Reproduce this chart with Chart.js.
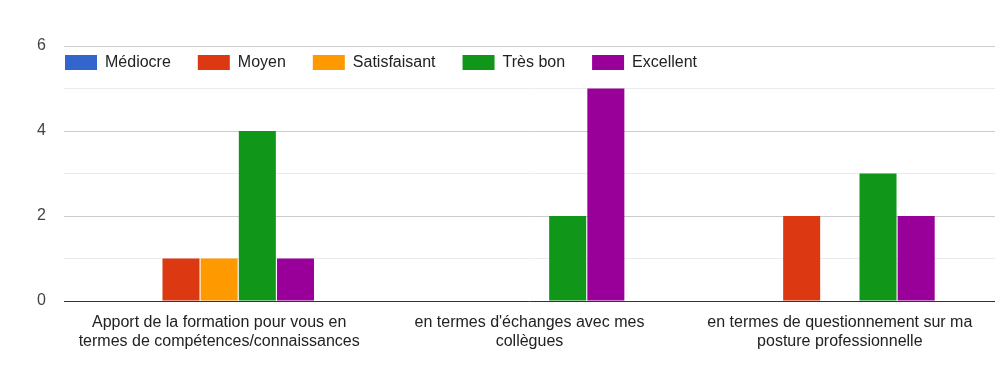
<!DOCTYPE html>
<html>
<head>
<meta charset="utf-8">
<script src="https://cdn.jsdelivr.net/npm/chart.js@4.4.1/dist/chart.umd.min.js"></script>
<style>
  html, body { margin: 0; padding: 0; background: #fff; }
  #wrap { width: 1003px; height: 368px; position: relative; }
</style>
</head>
<body>
<div id="wrap"><canvas id="ratingChart"></canvas></div>
<script>
const categories = [
  ["Apport de la formation pour vous en", "termes de compétences/connaissances"],
  ["en termes d'échanges avec mes", "collègues"],
  ["en termes de questionnement sur ma", "posture professionnelle"]
];
const seriesNames = ["Médiocre", "Moyen", "Satisfaisant", "Très bon", "Excellent"];
const mediocre = [0, 0, 0];
const moyen = [1, 0, 2];
const satisfaisant = [1, 0, 0];
const tresBon = [4, 2, 3];
const excellent = [1, 5, 2];
const yTicks = [0, 2, 4, 6];

const colors = ["#3366cc", "#dc3912", "#ff9900", "#109618", "#990099"];
const values = [mediocre, moyen, satisfaisant, tresBon, excellent];

const FONT = "Arial, 'Liberation Sans', sans-serif";

// legend takes no room and is drawn over the top of the plot
const legendOverlay = {
  id: "legendOverlay",
  beforeInit(chart) {
    const lg = chart.legend;
    if (!lg) return;
    const fit = lg.fit;
    lg.fit = function () {
      fit.call(this);
      this.height = 0;
    };
  },
  afterLayout(chart) {
    const lg = chart.legend;
    if (!lg) return;
    lg.left = 38;
    lg.right = 1003;
    lg.top = 27.5;
    lg.bottom = 80;
  }
};

const ctx = document.getElementById("ratingChart").getContext("2d");
new Chart(ctx, {
  type: "bar",
  data: {
    labels: categories,
    datasets: seriesNames.map((name, i) => ({
      label: name,
      data: values[i],
      backgroundColor: colors[i],
      borderWidth: 0,
      categoryPercentage: 0.615,
      barPercentage: 0.97
    }))
  },
  options: {
    responsive: true,
    maintainAspectRatio: false,
    animation: false,
    layout: { padding: { top: 46, left: 0, right: 8, bottom: 0 } },
    plugins: {
      tooltip: { enabled: false },
      legend: {
        position: "top",
        align: "start",
        labels: {
          boxWidth: 32,
          boxHeight: 15,
          padding: 27,
          color: "#222",
          font: { family: FONT, size: 16 }
        }
      }
    },
    scales: {
      x: {
        grid: { display: false, drawTicks: false },
        border: { display: false },
        ticks: {
          color: "#222",
          padding: 12,
          maxRotation: 0,
          autoSkip: false,
          font: { family: FONT, size: 16, lineHeight: 1.2 }
        },
        afterFit(scale) { scale.height = 67; }
      },
      y: {
        min: 0,
        max: 6,
        border: { display: false },
        grid: {
          drawTicks: false,
          lineWidth: 1,
          color(c) {
            const v = c.tick.value;
            if (v === 0) return "#333";
            return yTicks.includes(v) ? "#cccccc" : "#ebebeb";
          }
        },
        ticks: {
          stepSize: 1,
          padding: 18,
          color: "#444",
          font: { family: FONT, size: 16 },
          callback: (v) => (yTicks.includes(v) ? v : "")
        },
        afterFit(scale) { scale.width = 64; }
      }
    }
  },
  plugins: [legendOverlay]
});
</script>
</body>
</html>
